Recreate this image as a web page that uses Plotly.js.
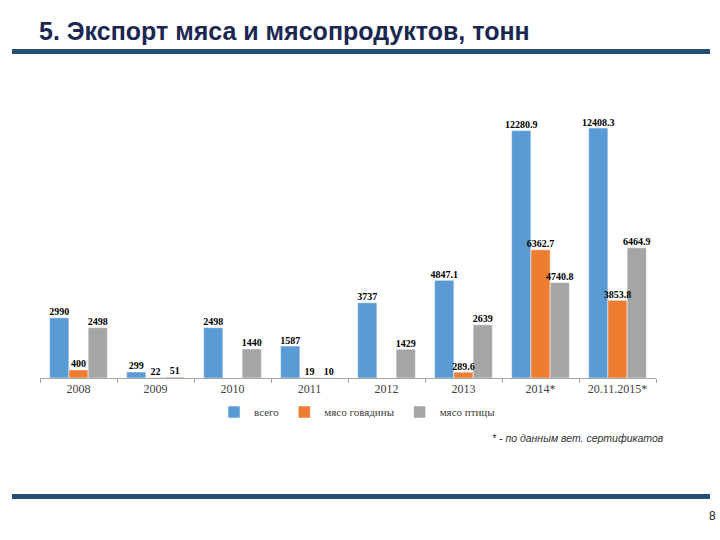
<!DOCTYPE html>
<html>
<head>
<meta charset="utf-8">
<script src="https://cdn.plot.ly/plotly-3.0.1.min.js"></script>
<style>html,body{margin:0;padding:0;background:#fff;}#chart{width:720px;height:540px;}</style>
</head>
<body>
<div id="chart"></div>
<script>
const categories = ["2008", "2009", "2010", "2011", "2012", "2013", "2014*", "20.11.2015*"];
const total = [2990, 299, 2498, 1587, 3737, 4847.1, 12280.9, 12408.3];
const beef = [400, 22, null, 19, null, 289.6, 6362.7, 3853.8];
const poultry = [2498, 51, 1440, 10, 1429, 2639, 4740.8, 6464.9];
const seriesNames = ["всего", "мясо говядины", "мясо птицы"];
const seriesColors = ["#5B9BD5", "#ED7D31", "#A5A5A5"];

const labelFont = {family: "Liberation Serif, serif", size: 10, color: "#000", weight: "bold"};
const series = [total, beef, poultry];
const data = [];
series.forEach((vals, i) => {
  data.push({
    type: "bar", x: categories, y: vals, name: seriesNames[i],
    offsetgroup: "g" + i, alignmentgroup: "a",
    marker: {color: seriesColors[i], line: {color: "rgba(255,255,255,0.5)", width: 1}},
    hoverinfo: "skip"
  });
});
series.forEach((vals, i) => {
  data.push({
    type: "scatter", mode: "text", x: categories, y: vals, showlegend: false,
    offsetgroup: "g" + i, alignmentgroup: "a",
    text: vals.map(v => v == null ? "" : String(v)),
    textposition: "top center", cliponaxis: false,
    textfont: labelFont, hoverinfo: "skip"
  });
});

const L = 40, T = 100, W = 616, H = 278;
function px(x) { return (x - L) / W; }
function py(y) { return (T + H - y) / H; }

const layout = {
  width: 720, height: 540,
  margin: {l: L, r: 720 - L - W, t: T, b: 540 - T - H},
  paper_bgcolor: "#fff", plot_bgcolor: "#fff",
  barmode: "group", bargap: 0.25, bargroupgap: 0, scattermode: "group",
  showlegend: true,
  legend: {orientation: "h", x: px(214), xanchor: "left", y: py(412), yanchor: "middle",
    font: {family: "Liberation Serif, serif", size: 11, color: "#404040"}, itemwidth: 30, traceorder: "normal"},
  xaxis: {type: "category", showline: true, linecolor: "#A6A6A6", linewidth: 1,
    ticks: "outside", tickson: "boundaries", ticklen: 4, tickcolor: "#A6A6A6",
    showgrid: false, tickfont: {family: "Liberation Serif, serif", size: 12, color: "#404040"}},
  yaxis: {visible: false, range: [0, 13800], showgrid: false, zeroline: false},
  shapes: [
    {type: "rect", xref: "paper", yref: "paper", x0: px(12), x1: px(710), y0: py(54), y1: py(49),
      fillcolor: "#264F78", line: {width: 0}},
    {type: "rect", xref: "paper", yref: "paper", x0: px(12), x1: px(710), y0: py(499), y1: py(494),
      fillcolor: "#264F78", line: {width: 0}}
  ],
  annotations: [
    {text: "<b>5. Экспорт мяса и мясопродуктов, тонн</b>", xref: "paper", yref: "paper",
      x: px(37), y: py(31), xanchor: "left", yanchor: "middle", showarrow: false,
      font: {family: "Liberation Sans, Arial, sans-serif", size: 25, color: "#1B2750"}},
    {text: "<i>* - по данным вет. сертификатов</i>", xref: "paper", yref: "paper",
      x: px(666), y: py(438), xanchor: "right", yanchor: "middle", showarrow: false,
      font: {family: "Liberation Sans, Arial, sans-serif", size: 10.5, color: "#333"}},
    {text: "8", xref: "paper", yref: "paper", x: px(712), y: py(516), xanchor: "center", yanchor: "middle",
      showarrow: false, font: {family: "Liberation Sans, Arial, sans-serif", size: 12, color: "#222"}}
  ]
};
Plotly.newPlot("chart", data, layout, {displayModeBar: false, staticPlot: true});
</script>
</body>
</html>
